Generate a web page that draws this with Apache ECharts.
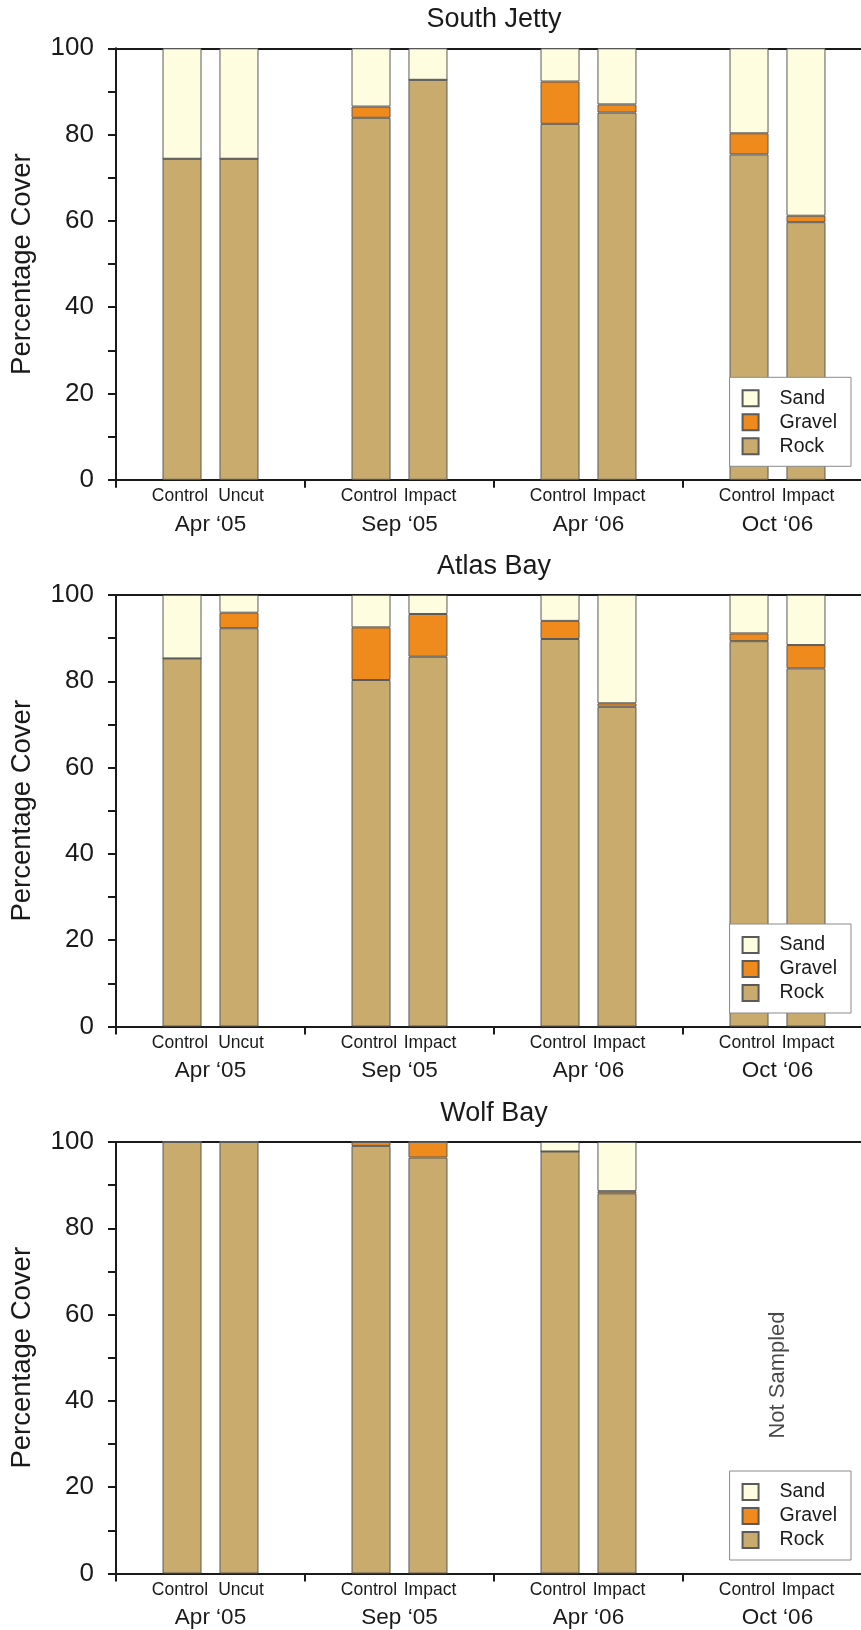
<!DOCTYPE html>
<html>
<head>
<meta charset="utf-8">
<script src="https://cdn.jsdelivr.net/npm/echarts@6/dist/echarts.min.js"></script>
<style>
  html, body { margin: 0; padding: 0; background: #fff; }
  #chart { width: 861px; height: 1630px; }
</style>
</head>
<body>
<div id="chart"></div>
<script>
// Substrate cover (%) at three sites, per survey, Control vs Impact/Uncut plots
const sites = ['South Jetty', 'Atlas Bay', 'Wolf Bay'];
const surveys = ['Apr \u201805', 'Sep \u201805', 'Apr \u201806', 'Oct \u201806'];
const plotLabels = [['Control', 'Uncut'], ['Control', 'Impact'], ['Control', 'Impact'], ['Control', 'Impact']];
const substrates = ['Rock', 'Gravel', 'Sand'];
const legendOrder = ['Sand', 'Gravel', 'Rock'];
const yTicks = [0, 20, 40, 60, 80, 100];

// South Jetty
const jettyRockCtrl   = [74.4, 83.9, 82.5, 75.4];
const jettyGravelCtrl = [0, 2.6, 9.8, 4.9];
const jettySandCtrl   = [25.6, 13.5, 7.7, 19.7];
const jettyRockImp    = [74.4, 92.7, 85.1, 59.7];
const jettyGravelImp  = [0, 0, 1.9, 1.5];
const jettySandImp    = [25.6, 7.3, 13.0, 38.8];

// Atlas Bay
const atlasRockCtrl   = [85.3, 80.3, 89.8, 89.3];
const atlasGravelCtrl = [0, 12.2, 4.2, 1.8];
const atlasSandCtrl   = [14.7, 7.5, 6.0, 8.9];
const atlasRockImp    = [92.3, 85.7, 74.1, 83.0];
const atlasGravelImp  = [3.6, 9.9, 0.8, 5.4];
const atlasSandImp    = [4.1, 4.4, 25.1, 11.6];

// Wolf Bay (Oct '06 not sampled)
const wolfRockCtrl    = [100, 99.1, 97.8, null];
const wolfGravelCtrl  = [0, 0.9, 0, null];
const wolfSandCtrl    = [0, 0, 2.2, null];
const wolfRockImp     = [100, 96.4, 88.1, null];
const wolfGravelImp   = [0, 3.6, 0.5, null];
const wolfSandImp     = [0, 0, 11.4, null];

const notSampledSurvey = 'Oct \u201806';

const siteData = [
  { ctrl: [jettyRockCtrl, jettyGravelCtrl, jettySandCtrl], imp: [jettyRockImp, jettyGravelImp, jettySandImp] },
  { ctrl: [atlasRockCtrl, atlasGravelCtrl, atlasSandCtrl], imp: [atlasRockImp, atlasGravelImp, atlasSandImp] },
  { ctrl: [wolfRockCtrl, wolfGravelCtrl, wolfSandCtrl],    imp: [wolfRockImp, wolfGravelImp, wolfSandImp] }
];

const FONT = '"Liberation Sans", Arial, Helvetica, sans-serif';
const INK = '#1a1a1a';
const colors = { Rock: '#C9AB6D', Gravel: '#EF8A1C', Sand: '#FFFDE0' };

const panelTops = [48.3, 595, 1142];
const panelHeight = 431.5;

const grid = [], xAxis = [], yAxis = [], legend = [], series = [];

sites.forEach((site, p) => {
  // the plot frame runs past the right edge of the page
  grid.push({ left: 116, top: panelTops[p], width: 756, height: panelHeight, outerBoundsMode: 'none', containLabel: false });

  // bottom category axis with plot labels and survey labels
  xAxis.push({
    type: 'category', gridIndex: p, data: surveys, position: 'bottom',
    axisLine: { lineStyle: { color: INK, width: 2 } },
    axisTick: { show: true, length: 8, lineStyle: { color: INK, width: 2 } },
    axisLabel: {
      interval: 0, margin: 6, color: INK, fontFamily: FONT, hideOverlap: false,
      formatter: (v, i) => '{a|' + plotLabels[i][0] + '}{b|' + plotLabels[i][1] + '}\n{g|' + v + '}',
      rich: {
        a: { width: 61, align: 'center', fontSize: 17.5, lineHeight: 21, fontFamily: FONT, color: INK },
        b: { width: 61, align: 'center', fontSize: 17.5, lineHeight: 21, fontFamily: FONT, color: INK },
        g: { align: 'center', fontSize: 22.5, lineHeight: 35, fontFamily: FONT, color: INK }
      }
    }
  });
  // top frame line carrying the site title
  xAxis.push({
    type: 'category', gridIndex: p, data: surveys, position: 'top',
    axisLine: { lineStyle: { color: INK, width: 2 } },
    axisTick: { show: false }, axisLabel: { show: false },
    name: site, nameLocation: 'middle', nameGap: 15,
    nameTextStyle: { fontSize: 27, fontFamily: FONT, color: INK }
  });

  yAxis.push({
    type: 'value', gridIndex: p, min: 0, max: 100, interval: 10,
    name: 'Percentage Cover', nameLocation: 'middle', nameGap: 80,
    nameTextStyle: { fontSize: 27.5, fontFamily: FONT, color: INK },
    axisLine: { show: true, lineStyle: { color: INK, width: 2 } },
    axisTick: { show: true, length: 8, lineStyle: { color: INK, width: 2 } },
    splitLine: { show: false },
    axisLabel: {
      margin: 22, fontSize: 26, fontFamily: FONT, color: INK,
      formatter: v => (yTicks.indexOf(v) >= 0 ? String(v) : '')
    }
  });

  legend.push({
    data: legendOrder, orient: 'vertical', right: 10, top: panelTops[p] + 329,
    selectedMode: false, icon: 'rect',
    itemWidth: 16, itemHeight: 16, itemGap: 4,
    padding: [11, 14, 10, 12],
    borderColor: '#8a8a8a', borderWidth: 1, backgroundColor: '#fff',
    textStyle: { fontSize: 19.5, fontFamily: FONT, color: INK, padding: [0, 0, 0, 16] }
  });

  ['ctrl', 'imp'].forEach(plot => {
    substrates.forEach((name, k) => {
      series.push({
        type: 'bar', name: name, stack: site + '-' + plot,
        xAxisIndex: p * 2, yAxisIndex: p,
        barWidth: 39, barGap: '46%',
        itemStyle: { color: colors[name], borderColor: '#5a5a5a', borderWidth: 1 },
        emphasis: { disabled: true },
        data: siteData[p][plot][k]
      });
    });
  });
});

// annotation for the missing Wolf Bay survey
series.push({
  type: 'scatter', name: 'note', xAxisIndex: 4, yAxisIndex: 2,
  symbolSize: 0, silent: true,
  label: {
    show: true, position: 'inside', rotate: 90, formatter: 'Not Sampled',
    fontSize: 22, fontFamily: FONT, color: INK
  },
  data: [[notSampledSurvey, 46]]
});

const chart = echarts.init(document.getElementById('chart'), null, { renderer: 'canvas' });
chart.setOption({
  animation: false,
  backgroundColor: '#fff',
  textStyle: { fontFamily: FONT },
  grid, xAxis, yAxis, legend, series
});
</script>
</body>
</html>
